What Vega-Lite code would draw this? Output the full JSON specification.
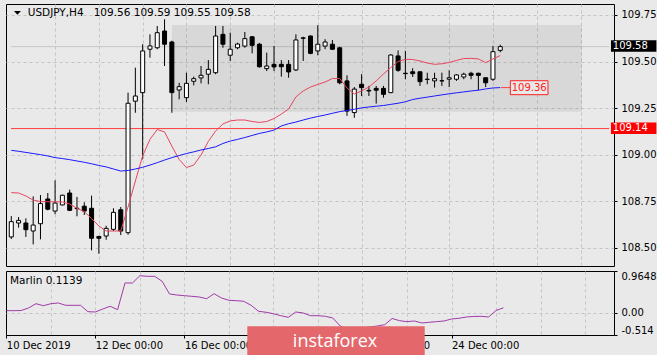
{
  "$schema": "https://vega.github.io/schema/vega-lite/v6.json",
  "background": "#e9e9e9",
  "padding": {"left": 3, "top": 3, "right": 0, "bottom": 0},
  "config": {
    "view": {"stroke": "#000000", "strokeWidth": 1},
    "font": "DejaVu Sans",
    "axis": {"labelFont": "DejaVu Sans", "labelFontSize": 10, "labelColor": "#000000", "tickColor": "#000000", "domainColor": "#000000", "gridColor": "#c4c4c4", "gridDash": [3, 3], "gridWidth": 1},
    "text": {"font": "DejaVu Sans"}
  },
  "spacing": 3,
  "datasets": {
    "bars": [
      {"i":0,"o":108.558,"h":108.670,"l":108.547,"c":108.640,"r":108.796,"b":109.023,"m":0.048},
      {"i":1,"o":108.633,"h":108.665,"l":108.608,"c":108.647,"r":108.794,"b":109.018,"m":0.048},
      {"i":2,"o":108.633,"h":108.658,"l":108.558,"c":108.597,"r":108.778,"b":109.012,"m":0.052},
      {"i":3,"o":108.590,"h":108.776,"l":108.518,"c":108.622,"r":108.756,"b":109.006,"m":0.110},
      {"i":4,"o":108.629,"h":108.783,"l":108.545,"c":108.737,"r":108.748,"b":109.000,"m":0.209},
      {"i":5,"o":108.762,"h":108.794,"l":108.701,"c":108.707,"r":108.747,"b":108.993,"m":0.163},
      {"i":6,"o":108.697,"h":108.862,"l":108.680,"c":108.740,"r":108.747,"b":108.984,"m":0.209},
      {"i":7,"o":108.730,"h":108.785,"l":108.728,"c":108.782,"r":108.746,"b":108.979,"m":0.226},
      {"i":8,"o":108.794,"h":108.812,"l":108.697,"c":108.701,"r":108.735,"b":108.973,"m":0.172},
      {"i":9,"o":108.712,"h":108.773,"l":108.669,"c":108.710,"r":108.712,"b":108.966,"m":0.172},
      {"i":10,"o":108.723,"h":108.744,"l":108.676,"c":108.697,"r":108.694,"b":108.959,"m":0.172},
      {"i":11,"o":108.712,"h":108.780,"l":108.486,"c":108.551,"r":108.657,"b":108.951,"m":0.025},
      {"i":12,"o":108.561,"h":108.563,"l":108.468,"c":108.551,"r":108.617,"b":108.942,"m":0.018},
      {"i":13,"o":108.563,"h":108.618,"l":108.543,"c":108.604,"r":108.590,"b":108.934,"m":0.087},
      {"i":14,"o":108.599,"h":108.712,"l":108.590,"c":108.690,"r":108.590,"b":108.923,"m":0.149},
      {"i":15,"o":108.704,"h":108.719,"l":108.568,"c":108.590,"r":108.590,"b":108.912,"m":0.071},
      {"i":16,"o":108.581,"h":109.333,"l":108.570,"c":109.276,"r":108.719,"b":108.915,"m":0.688},
      {"i":17,"o":109.287,"h":109.467,"l":109.225,"c":109.315,"r":108.858,"b":108.923,"m":0.688},
      {"i":18,"o":109.333,"h":109.593,"l":108.975,"c":109.557,"r":108.993,"b":108.932,"m":0.856},
      {"i":19,"o":109.566,"h":109.646,"l":109.521,"c":109.584,"r":109.082,"b":108.944,"m":0.842},
      {"i":20,"o":109.574,"h":109.691,"l":109.566,"c":109.655,"r":109.135,"b":108.957,"m":0.842},
      {"i":21,"o":109.664,"h":109.727,"l":109.476,"c":109.593,"r":109.122,"b":108.971,"m":0.727},
      {"i":22,"o":109.605,"h":109.612,"l":109.225,"c":109.333,"r":109.046,"b":108.984,"m":0.433},
      {"i":23,"o":109.347,"h":109.386,"l":109.297,"c":109.365,"r":108.974,"b":108.995,"m":0.410},
      {"i":24,"o":109.306,"h":109.440,"l":109.283,"c":109.383,"r":108.931,"b":109.006,"m":0.394},
      {"i":25,"o":109.394,"h":109.419,"l":109.372,"c":109.408,"r":108.944,"b":109.015,"m":0.380},
      {"i":26,"o":109.412,"h":109.476,"l":109.383,"c":109.426,"r":108.998,"b":109.025,"m":0.364},
      {"i":27,"o":109.432,"h":109.508,"l":109.378,"c":109.458,"r":109.071,"b":109.033,"m":0.325},
      {"i":28,"o":109.440,"h":109.691,"l":109.432,"c":109.637,"r":109.127,"b":109.042,"m":0.440},
      {"i":29,"o":109.646,"h":109.691,"l":109.574,"c":109.593,"r":109.165,"b":109.060,"m":0.341},
      {"i":30,"o":109.534,"h":109.655,"l":109.503,"c":109.566,"r":109.181,"b":109.073,"m":0.288},
      {"i":31,"o":109.574,"h":109.601,"l":109.566,"c":109.594,"r":109.186,"b":109.082,"m":0.279},
      {"i":32,"o":109.583,"h":109.659,"l":109.574,"c":109.623,"r":109.186,"b":109.092,"m":0.265},
      {"i":33,"o":109.633,"h":109.637,"l":109.544,"c":109.587,"r":109.178,"b":109.103,"m":0.172},
      {"i":34,"o":109.593,"h":109.600,"l":109.467,"c":109.472,"r":109.173,"b":109.114,"m":0.034},
      {"i":35,"o":109.462,"h":109.548,"l":109.449,"c":109.476,"r":109.178,"b":109.122,"m":0.011},
      {"i":36,"o":109.485,"h":109.584,"l":109.449,"c":109.471,"r":109.194,"b":109.132,"m":-0.022},
      {"i":37,"o":109.485,"h":109.508,"l":109.419,"c":109.472,"r":109.218,"b":109.154,"m":-0.068},
      {"i":38,"o":109.485,"h":109.508,"l":109.413,"c":109.444,"r":109.245,"b":109.166,"m":-0.105},
      {"i":39,"o":109.455,"h":109.646,"l":109.449,"c":109.616,"r":109.310,"b":109.175,"m":0.018},
      {"i":40,"o":109.627,"h":109.633,"l":109.503,"c":109.625,"r":109.342,"b":109.186,"m":-0.005},
      {"i":41,"o":109.637,"h":109.640,"l":109.539,"c":109.544,"r":109.363,"b":109.196,"m":-0.068},
      {"i":42,"o":109.557,"h":109.695,"l":109.534,"c":109.593,"r":109.377,"b":109.205,"m":-0.068},
      {"i":43,"o":109.583,"h":109.620,"l":109.566,"c":109.605,"r":109.390,"b":109.213,"m":-0.082},
      {"i":44,"o":109.593,"h":109.616,"l":109.562,"c":109.566,"r":109.409,"b":109.222,"m":-0.121},
      {"i":45,"o":109.574,"h":109.580,"l":109.378,"c":109.386,"r":109.409,"b":109.231,"m":-0.306},
      {"i":46,"o":109.396,"h":109.426,"l":109.208,"c":109.234,"r":109.358,"b":109.237,"m":-0.375},
      {"i":47,"o":109.226,"h":109.363,"l":109.198,"c":109.352,"r":109.326,"b":109.244,"m":-0.375},
      {"i":48,"o":109.378,"h":109.432,"l":109.315,"c":109.360,"r":109.342,"b":109.251,"m":-0.352},
      {"i":49,"o":109.345,"h":109.369,"l":109.315,"c":109.342,"r":109.363,"b":109.256,"m":-0.329},
      {"i":50,"o":109.356,"h":109.369,"l":109.274,"c":109.346,"r":109.396,"b":109.260,"m":-0.306},
      {"i":51,"o":109.356,"h":109.369,"l":109.306,"c":109.324,"r":109.433,"b":109.264,"m":-0.276},
      {"i":52,"o":109.333,"h":109.539,"l":109.330,"c":109.535,"r":109.468,"b":109.270,"m":-0.132},
      {"i":53,"o":109.530,"h":109.560,"l":109.445,"c":109.453,"r":109.500,"b":109.276,"m":-0.183},
      {"i":54,"o":109.437,"h":109.557,"l":109.405,"c":109.435,"r":109.512,"b":109.284,"m":-0.206},
      {"i":55,"o":109.445,"h":109.464,"l":109.417,"c":109.435,"r":109.511,"b":109.296,"m":-0.190},
      {"i":56,"o":109.445,"h":109.447,"l":109.369,"c":109.392,"r":109.503,"b":109.303,"m":-0.236},
      {"i":57,"o":109.405,"h":109.440,"l":109.378,"c":109.404,"r":109.492,"b":109.309,"m":-0.220},
      {"i":58,"o":109.396,"h":109.440,"l":109.360,"c":109.408,"r":109.485,"b":109.315,"m":-0.206},
      {"i":59,"o":109.397,"h":109.440,"l":109.369,"c":109.396,"r":109.488,"b":109.321,"m":-0.190},
      {"i":60,"o":109.405,"h":109.453,"l":109.363,"c":109.413,"r":109.495,"b":109.327,"m":-0.144},
      {"i":61,"o":109.405,"h":109.432,"l":109.396,"c":109.428,"r":109.506,"b":109.332,"m":-0.128},
      {"i":62,"o":109.417,"h":109.440,"l":109.405,"c":109.432,"r":109.516,"b":109.337,"m":-0.098},
      {"i":63,"o":109.437,"h":109.445,"l":109.405,"c":109.426,"r":109.517,"b":109.342,"m":-0.086},
      {"i":64,"o":109.437,"h":109.440,"l":109.346,"c":109.426,"r":109.514,"b":109.346,"m":-0.082},
      {"i":65,"o":109.413,"h":109.415,"l":109.363,"c":109.386,"r":109.494,"b":109.353,"m":-0.098},
      {"i":66,"o":109.405,"h":109.584,"l":109.396,"c":109.553,"r":109.514,"b":109.358,"m":0.052},
      {"i":67,"o":109.560,"h":109.590,"l":109.550,"c":109.580,"r":109.532,"b":109.360,"m":0.1139}
    ],
    "zones": [{"x1": 22.0, "x2": 78.2, "y1": 109.231, "y2": 109.696}]
  },
  "vconcat": [
    {
      "width": 608,
      "height": 262,
      "data": {"name": "bars"},
      "layer": [
        {
          "data": {"values": [{"p": 109.58}]},
          "mark": {"type": "rule", "color": "#c6c6c6", "strokeWidth": 1},
          "encoding": {
            "x": {"datum": -0.04, "type": "quantitative", "scale": {"domain": [-0.04, 81.9], "nice": false, "zero": false},
                  "axis": {"orient": "bottom", "values": [6,12,18,24,30,36,42,48,54,60,66,72,78], "grid": true, "labels": false, "ticks": false, "domain": false, "title": null, "minExtent": 0, "maxExtent": 0}},
            "x2": {"datum": 81.9},
            "y": {"field": "p", "type": "quantitative", "scale": {"domain": [108.402, 109.809], "nice": false, "zero": false},
                  "axis": {"orient": "right", "values": [108.5, 108.75, 109, 109.25, 109.5, 109.75], "format": ".2f", "grid": true, "tickSize": 3, "labelPadding": 4, "domain": false, "title": null, "labelOverlap": false}}
          }
        },
        {
          "data": {"name": "zones"},
          "mark": {"type": "rect", "fill": "#000000", "opacity": 0.07},
          "encoding": {
            "x": {"field": "x1", "type": "quantitative", "scale": {"domain": [-0.04, 81.9], "nice": false, "zero": false},
                  "axis": {"orient": "bottom", "values": [6,12,18,24,30,36,42,48,54,60,66,72,78], "grid": true, "labels": false, "ticks": false, "domain": false, "title": null, "minExtent": 0, "maxExtent": 0}},
            "x2": {"field": "x2"},
            "y": {"field": "y1", "type": "quantitative", "scale": {"domain": [108.402, 109.809], "nice": false, "zero": false},
                  "axis": {"orient": "right", "values": [108.5, 108.75, 109, 109.25, 109.5, 109.75], "format": ".2f", "grid": true, "tickSize": 3, "labelPadding": 4, "domain": false, "title": null, "labelOverlap": false}},
            "y2": {"field": "y2"}
          }
        },
        {
          "data": {"values": [{"p": 109.14}]},
          "mark": {"type": "rule", "color": "#ff3c3c", "strokeWidth": 1},
          "encoding": {
            "x": {"datum": -0.04, "type": "quantitative", "scale": {"domain": [-0.04, 81.9], "nice": false, "zero": false},
                  "axis": {"orient": "bottom", "values": [6,12,18,24,30,36,42,48,54,60,66,72,78], "grid": true, "labels": false, "ticks": false, "domain": false, "title": null, "minExtent": 0, "maxExtent": 0}},
            "x2": {"datum": 81.9},
            "y": {"field": "p", "type": "quantitative", "scale": {"domain": [108.402, 109.809], "nice": false, "zero": false},
                  "axis": {"orient": "right", "values": [108.5, 108.75, 109, 109.25, 109.5, 109.75], "format": ".2f", "grid": true, "tickSize": 3, "labelPadding": 4, "domain": false, "title": null, "labelOverlap": false}}
          }
        },
        {
          "mark": {"type": "rule", "color": "#000000", "strokeWidth": 1},
          "encoding": {
            "x": {"field": "i", "type": "quantitative", "scale": {"domain": [-0.04, 81.9], "nice": false, "zero": false},
                  "axis": {"orient": "bottom", "values": [6,12,18,24,30,36,42,48,54,60,66,72,78], "grid": true, "labels": false, "ticks": false, "domain": false, "title": null, "minExtent": 0, "maxExtent": 0}},
            "y": {"field": "l", "type": "quantitative", "scale": {"domain": [108.402, 109.809], "nice": false, "zero": false},
                  "axis": {"orient": "right", "values": [108.5, 108.75, 109, 109.25, 109.5, 109.75], "format": ".2f", "grid": true, "tickSize": 3, "labelPadding": 4, "domain": false, "title": null, "labelOverlap": false}},
            "y2": {"field": "h"}
          }
        },
        {
          "mark": {"type": "bar", "size": 4, "stroke": "#000000", "strokeWidth": 1, "orient": "vertical"},
          "encoding": {
            "x": {"field": "i", "type": "quantitative", "scale": {"domain": [-0.04, 81.9], "nice": false, "zero": false},
                  "axis": {"orient": "bottom", "values": [6,12,18,24,30,36,42,48,54,60,66,72,78], "grid": true, "labels": false, "ticks": false, "domain": false, "title": null, "minExtent": 0, "maxExtent": 0}},
            "y": {"field": "o", "type": "quantitative", "scale": {"domain": [108.402, 109.809], "nice": false, "zero": false},
                  "axis": {"orient": "right", "values": [108.5, 108.75, 109, 109.25, 109.5, 109.75], "format": ".2f", "grid": true, "tickSize": 3, "labelPadding": 4, "domain": false, "title": null, "labelOverlap": false}},
            "y2": {"field": "c"},
            "fill": {"condition": {"test": "datum.c >= datum.o", "value": "#ffffff"}, "value": "#000000"}
          }
        },
        {
          "mark": {"type": "line", "color": "#e8455f", "strokeWidth": 1},
          "encoding": {
            "x": {"field": "i", "type": "quantitative", "scale": {"domain": [-0.04, 81.9], "nice": false, "zero": false},
                  "axis": {"orient": "bottom", "values": [6,12,18,24,30,36,42,48,54,60,66,72,78], "grid": true, "labels": false, "ticks": false, "domain": false, "title": null, "minExtent": 0, "maxExtent": 0}},
            "y": {"field": "r", "type": "quantitative", "scale": {"domain": [108.402, 109.809], "nice": false, "zero": false},
                  "axis": {"orient": "right", "values": [108.5, 108.75, 109, 109.25, 109.5, 109.75], "format": ".2f", "grid": true, "tickSize": 3, "labelPadding": 4, "domain": false, "title": null, "labelOverlap": false}}
          }
        },
        {
          "mark": {"type": "line", "color": "#1a1aff", "strokeWidth": 1},
          "encoding": {
            "x": {"field": "i", "type": "quantitative", "scale": {"domain": [-0.04, 81.9], "nice": false, "zero": false},
                  "axis": {"orient": "bottom", "values": [6,12,18,24,30,36,42,48,54,60,66,72,78], "grid": true, "labels": false, "ticks": false, "domain": false, "title": null, "minExtent": 0, "maxExtent": 0}},
            "y": {"field": "b", "type": "quantitative", "scale": {"domain": [108.402, 109.809], "nice": false, "zero": false},
                  "axis": {"orient": "right", "values": [108.5, 108.75, 109, 109.25, 109.5, 109.75], "format": ".2f", "grid": true, "tickSize": 3, "labelPadding": 4, "domain": false, "title": null, "labelOverlap": false}}
          }
        },
        {
          "data": {"values": [{"p": 109.36}]},
          "mark": {"type": "rule", "color": "#ff4040", "strokeWidth": 1},
          "encoding": {
            "x": {"datum": 67.1, "type": "quantitative", "scale": {"domain": [-0.04, 81.9], "nice": false, "zero": false},
                  "axis": {"orient": "bottom", "values": [6,12,18,24,30,36,42,48,54,60,66,72,78], "grid": true, "labels": false, "ticks": false, "domain": false, "title": null, "minExtent": 0, "maxExtent": 0}},
            "x2": {"datum": 68.38},
            "y": {"field": "p", "type": "quantitative", "scale": {"domain": [108.402, 109.809], "nice": false, "zero": false},
                  "axis": {"orient": "right", "values": [108.5, 108.75, 109, 109.25, 109.5, 109.75], "format": ".2f", "grid": true, "tickSize": 3, "labelPadding": 4, "domain": false, "title": null, "labelOverlap": false}}
          }
        },
        {
          "data": {"values": [{"p": 109.36}]},
          "mark": {"type": "rect", "fill": "#e8e8e8", "stroke": "#ff2020", "strokeWidth": 1},
          "encoding": {
            "x": {"datum": 68.38, "type": "quantitative", "scale": {"domain": [-0.04, 81.9], "nice": false, "zero": false},
                  "axis": {"orient": "bottom", "values": [6,12,18,24,30,36,42,48,54,60,66,72,78], "grid": true, "labels": false, "ticks": false, "domain": false, "title": null, "minExtent": 0, "maxExtent": 0}},
            "x2": {"datum": 73.54},
            "y": {"datum": 109.397, "type": "quantitative", "scale": {"domain": [108.402, 109.809], "nice": false, "zero": false},
                  "axis": {"orient": "right", "values": [108.5, 108.75, 109, 109.25, 109.5, 109.75], "format": ".2f", "grid": true, "tickSize": 3, "labelPadding": 4, "domain": false, "title": null, "labelOverlap": false}},
            "y2": {"datum": 109.322}
          }
        },
        {
          "data": {"values": [{"p": 109.36}]},
          "mark": {"type": "text", "color": "#ff2020", "fontSize": 10, "align": "center", "baseline": "middle"},
          "encoding": {
            "x": {"datum": 70.96, "type": "quantitative", "scale": {"domain": [-0.04, 81.9], "nice": false, "zero": false},
                  "axis": {"orient": "bottom", "values": [6,12,18,24,30,36,42,48,54,60,66,72,78], "grid": true, "labels": false, "ticks": false, "domain": false, "title": null, "minExtent": 0, "maxExtent": 0}},
            "y": {"field": "p", "type": "quantitative", "scale": {"domain": [108.402, 109.809], "nice": false, "zero": false},
                  "axis": {"orient": "right", "values": [108.5, 108.75, 109, 109.25, 109.5, 109.75], "format": ".2f", "grid": true, "tickSize": 3, "labelPadding": 4, "domain": false, "title": null, "labelOverlap": false}},
            "text": {"field": "p", "format": ".2f"}
          }
        },
        {
          "data": {"values": [{"p": 109.58}]},
          "mark": {"type": "rect", "fill": "#000000"},
          "encoding": {
            "x": {"datum": 82.17, "type": "quantitative", "scale": {"domain": [-0.04, 81.9], "nice": false, "zero": false},
                  "axis": {"orient": "bottom", "values": [6,12,18,24,30,36,42,48,54,60,66,72,78], "grid": true, "labels": false, "ticks": false, "domain": false, "title": null, "minExtent": 0, "maxExtent": 0}},
            "x2": {"datum": 88.4},
            "y": {"datum": 109.614, "type": "quantitative", "scale": {"domain": [108.402, 109.809], "nice": false, "zero": false},
                  "axis": {"orient": "right", "values": [108.5, 108.75, 109, 109.25, 109.5, 109.75], "format": ".2f", "grid": true, "tickSize": 3, "labelPadding": 4, "domain": false, "title": null, "labelOverlap": false}},
            "y2": {"datum": 109.553}
          }
        },
        {
          "data": {"values": [{"p": 109.58}]},
          "mark": {"type": "text", "color": "#ffffff", "fontSize": 10, "align": "left", "baseline": "middle"},
          "encoding": {
            "x": {"datum": 82.42, "type": "quantitative", "scale": {"domain": [-0.04, 81.9], "nice": false, "zero": false},
                  "axis": {"orient": "bottom", "values": [6,12,18,24,30,36,42,48,54,60,66,72,78], "grid": true, "labels": false, "ticks": false, "domain": false, "title": null, "minExtent": 0, "maxExtent": 0}},
            "y": {"datum": 109.584, "type": "quantitative", "scale": {"domain": [108.402, 109.809], "nice": false, "zero": false},
                  "axis": {"orient": "right", "values": [108.5, 108.75, 109, 109.25, 109.5, 109.75], "format": ".2f", "grid": true, "tickSize": 3, "labelPadding": 4, "domain": false, "title": null, "labelOverlap": false}},
            "text": {"field": "p", "format": ".2f"}
          }
        },
        {
          "data": {"values": [{"p": 109.14}]},
          "mark": {"type": "rect", "fill": "#ff0000"},
          "encoding": {
            "x": {"datum": 82.17, "type": "quantitative", "scale": {"domain": [-0.04, 81.9], "nice": false, "zero": false},
                  "axis": {"orient": "bottom", "values": [6,12,18,24,30,36,42,48,54,60,66,72,78], "grid": true, "labels": false, "ticks": false, "domain": false, "title": null, "minExtent": 0, "maxExtent": 0}},
            "x2": {"datum": 88.4},
            "y": {"datum": 109.172, "type": "quantitative", "scale": {"domain": [108.402, 109.809], "nice": false, "zero": false},
                  "axis": {"orient": "right", "values": [108.5, 108.75, 109, 109.25, 109.5, 109.75], "format": ".2f", "grid": true, "tickSize": 3, "labelPadding": 4, "domain": false, "title": null, "labelOverlap": false}},
            "y2": {"datum": 109.111}
          }
        },
        {
          "data": {"values": [{"p": 109.14}]},
          "mark": {"type": "text", "color": "#ffffff", "fontSize": 10, "align": "left", "baseline": "middle"},
          "encoding": {
            "x": {"datum": 82.42, "type": "quantitative", "scale": {"domain": [-0.04, 81.9], "nice": false, "zero": false},
                  "axis": {"orient": "bottom", "values": [6,12,18,24,30,36,42,48,54,60,66,72,78], "grid": true, "labels": false, "ticks": false, "domain": false, "title": null, "minExtent": 0, "maxExtent": 0}},
            "y": {"datum": 109.142, "type": "quantitative", "scale": {"domain": [108.402, 109.809], "nice": false, "zero": false},
                  "axis": {"orient": "right", "values": [108.5, 108.75, 109, 109.25, 109.5, 109.75], "format": ".2f", "grid": true, "tickSize": 3, "labelPadding": 4, "domain": false, "title": null, "labelOverlap": false}},
            "text": {"field": "p", "format": ".2f"}
          }
        },
        {
          "data": {"values": [{"s": "menu"}]},
          "mark": {"type": "point", "shape": "M-1,-0.55L1,-0.55L0,0.55Z", "filled": true, "color": "#000000", "size": 49, "opacity": 1},
          "encoding": {
            "x": {"datum": 0.84, "type": "quantitative", "scale": {"domain": [-0.04, 81.9], "nice": false, "zero": false},
                  "axis": {"orient": "bottom", "values": [6,12,18,24,30,36,42,48,54,60,66,72,78], "grid": true, "labels": false, "ticks": false, "domain": false, "title": null, "minExtent": 0, "maxExtent": 0}},
            "y": {"datum": 109.761, "type": "quantitative", "scale": {"domain": [108.402, 109.809], "nice": false, "zero": false},
                  "axis": {"orient": "right", "values": [108.5, 108.75, 109, 109.25, 109.5, 109.75], "format": ".2f", "grid": true, "tickSize": 3, "labelPadding": 4, "domain": false, "title": null, "labelOverlap": false}}
          }
        },
        {
          "data": {"values": [{"t": "USDJPY,H4\u00a0\u00a0 109.56 109.59 109.55 109.58"}]},
          "mark": {"type": "text", "color": "#000000", "fontSize": 10.5, "align": "left", "baseline": "middle"},
          "encoding": {
            "x": {"datum": 2.25, "type": "quantitative", "scale": {"domain": [-0.04, 81.9], "nice": false, "zero": false},
                  "axis": {"orient": "bottom", "values": [6,12,18,24,30,36,42,48,54,60,66,72,78], "grid": true, "labels": false, "ticks": false, "domain": false, "title": null, "minExtent": 0, "maxExtent": 0}},
            "y": {"datum": 109.762, "type": "quantitative", "scale": {"domain": [108.402, 109.809], "nice": false, "zero": false},
                  "axis": {"orient": "right", "values": [108.5, 108.75, 109, 109.25, 109.5, 109.75], "format": ".2f", "grid": true, "tickSize": 3, "labelPadding": 4, "domain": false, "title": null, "labelOverlap": false}},
            "text": {"field": "t"}
          }
        }
      ]
    },
    {
      "width": 608,
      "height": 64,
      "data": {"name": "bars"},
      "layer": [
        {
          "mark": {"type": "line", "color": "#a03aa8", "strokeWidth": 1},
          "encoding": {
            "x": {"field": "i", "type": "quantitative", "scale": {"domain": [-0.04, 81.9], "nice": false, "zero": false},
                  "axis": {"orient": "bottom", "values": [0,6,12,18,24,30,36,42,48,54,60,66,72,78], "title": null, "domain": false, "grid": true,
                           "labelExpr": "datum.value == 0 ? '10 Dec 2019' : datum.value == 12 ? '12 Dec 00:00' : datum.value == 24 ? '16 Dec 00:00' : datum.value == 48 ? '20 Dec 00:00' : datum.value == 60 ? '24 Dec 00:00' : ''",
                           "labelAlign": "left", "labelFlush": false, "labelOverlap": false, "labelPadding": 2, "tickSize": 3,
                           "tickOpacity": {"condition": {"test": "datum.value % 12 == 0 && datum.value <= 60", "value": 1}, "value": 0},
                           "gridOpacity": {"condition": {"test": "datum.value > 0", "value": 1}, "value": 0}}},
            "y": {"field": "m", "type": "quantitative", "scale": {"domain": [-0.514, 0.9648], "nice": false, "zero": false},
                  "axis": {"orient": "right", "values": [-0.514, 0, 0.9648], "title": null, "domain": false, "grid": true, "tickSize": 3, "labelPadding": 4, "labelFlush": true, "labelOverlap": false,
                           "labelExpr": "datum.value > 0.5 ? '0.9648' : datum.value < -0.1 ? '-0.514' : '0.00'",
                           "gridOpacity": {"condition": {"test": "datum.value == 0", "value": 1}, "value": 0}}}
          }
        },
        {
          "data": {"values": [{"t": "Marlin 0.1139"}]},
          "mark": {"type": "text", "color": "#000000", "fontSize": 10.5, "align": "left", "baseline": "middle"},
          "encoding": {
            "x": {"datum": 0.5, "type": "quantitative", "scale": {"domain": [-0.04, 81.9], "nice": false, "zero": false},
                  "axis": {"orient": "bottom", "values": [0,6,12,18,24,30,36,42,48,54,60,66,72,78], "title": null, "domain": false, "grid": true,
                           "labelExpr": "datum.value == 0 ? '10 Dec 2019' : datum.value == 12 ? '12 Dec 00:00' : datum.value == 24 ? '16 Dec 00:00' : datum.value == 48 ? '20 Dec 00:00' : datum.value == 60 ? '24 Dec 00:00' : ''",
                           "labelAlign": "left", "labelFlush": false, "labelOverlap": false, "labelPadding": 2, "tickSize": 3,
                           "tickOpacity": {"condition": {"test": "datum.value % 12 == 0 && datum.value <= 60", "value": 1}, "value": 0},
                           "gridOpacity": {"condition": {"test": "datum.value > 0", "value": 1}, "value": 0}}},
            "y": {"datum": 0.727, "type": "quantitative", "scale": {"domain": [-0.514, 0.9648], "nice": false, "zero": false},
                  "axis": {"orient": "right", "values": [-0.514, 0, 0.9648], "title": null, "domain": false, "grid": true, "tickSize": 3, "labelPadding": 4, "labelFlush": true, "labelOverlap": false,
                           "labelExpr": "datum.value > 0.5 ? '0.9648' : datum.value < -0.1 ? '-0.514' : '0.00'",
                           "gridOpacity": {"condition": {"test": "datum.value == 0", "value": 1}, "value": 0}}},
            "text": {"field": "t"}
          }
        },
        {
          "data": {"values": [{"t": "instaforex"}]},
          "mark": {"type": "rect", "fill": "#e4676b"},
          "encoding": {
            "x": {"datum": 32.48, "type": "quantitative", "scale": {"domain": [-0.04, 81.9], "nice": false, "zero": false},
                  "axis": {"orient": "bottom", "values": [0,6,12,18,24,30,36,42,48,54,60,66,72,78], "title": null, "domain": false, "grid": true,
                           "labelExpr": "datum.value == 0 ? '10 Dec 2019' : datum.value == 12 ? '12 Dec 00:00' : datum.value == 24 ? '16 Dec 00:00' : datum.value == 48 ? '20 Dec 00:00' : datum.value == 60 ? '24 Dec 00:00' : ''",
                           "labelAlign": "left", "labelFlush": false, "labelOverlap": false, "labelPadding": 2, "tickSize": 3,
                           "tickOpacity": {"condition": {"test": "datum.value % 12 == 0 && datum.value <= 60", "value": 1}, "value": 0},
                           "gridOpacity": {"condition": {"test": "datum.value > 0", "value": 1}, "value": 0}}},
            "x2": {"datum": 56.39},
            "y": {"datum": -0.312, "type": "quantitative", "scale": {"domain": [-0.514, 0.9648], "nice": false, "zero": false},
                  "axis": {"orient": "right", "values": [-0.514, 0, 0.9648], "title": null, "domain": false, "grid": true, "tickSize": 3, "labelPadding": 4, "labelFlush": true, "labelOverlap": false,
                           "labelExpr": "datum.value > 0.5 ? '0.9648' : datum.value < -0.1 ? '-0.514' : '0.00'",
                           "gridOpacity": {"condition": {"test": "datum.value == 0", "value": 1}, "value": 0}}},
            "y2": {"datum": -1.08}
          }
        },
        {
          "data": {"values": [{"t": "instaforex"}]},
          "mark": {"type": "text", "color": "#ffffff", "font": "Open Sans", "fontSize": 18, "align": "center", "baseline": "middle"},
          "encoding": {
            "x": {"datum": 44.3, "type": "quantitative", "scale": {"domain": [-0.04, 81.9], "nice": false, "zero": false},
                  "axis": {"orient": "bottom", "values": [0,6,12,18,24,30,36,42,48,54,60,66,72,78], "title": null, "domain": false, "grid": true,
                           "labelExpr": "datum.value == 0 ? '10 Dec 2019' : datum.value == 12 ? '12 Dec 00:00' : datum.value == 24 ? '16 Dec 00:00' : datum.value == 48 ? '20 Dec 00:00' : datum.value == 60 ? '24 Dec 00:00' : ''",
                           "labelAlign": "left", "labelFlush": false, "labelOverlap": false, "labelPadding": 2, "tickSize": 3,
                           "tickOpacity": {"condition": {"test": "datum.value % 12 == 0 && datum.value <= 60", "value": 1}, "value": 0},
                           "gridOpacity": {"condition": {"test": "datum.value > 0", "value": 1}, "value": 0}}},
            "y": {"datum": -0.675, "type": "quantitative", "scale": {"domain": [-0.514, 0.9648], "nice": false, "zero": false},
                  "axis": {"orient": "right", "values": [-0.514, 0, 0.9648], "title": null, "domain": false, "grid": true, "tickSize": 3, "labelPadding": 4, "labelFlush": true, "labelOverlap": false,
                           "labelExpr": "datum.value > 0.5 ? '0.9648' : datum.value < -0.1 ? '-0.514' : '0.00'",
                           "gridOpacity": {"condition": {"test": "datum.value == 0", "value": 1}, "value": 0}}},
            "text": {"field": "t"}
          }
        }
      ]
    }
  ]
}
